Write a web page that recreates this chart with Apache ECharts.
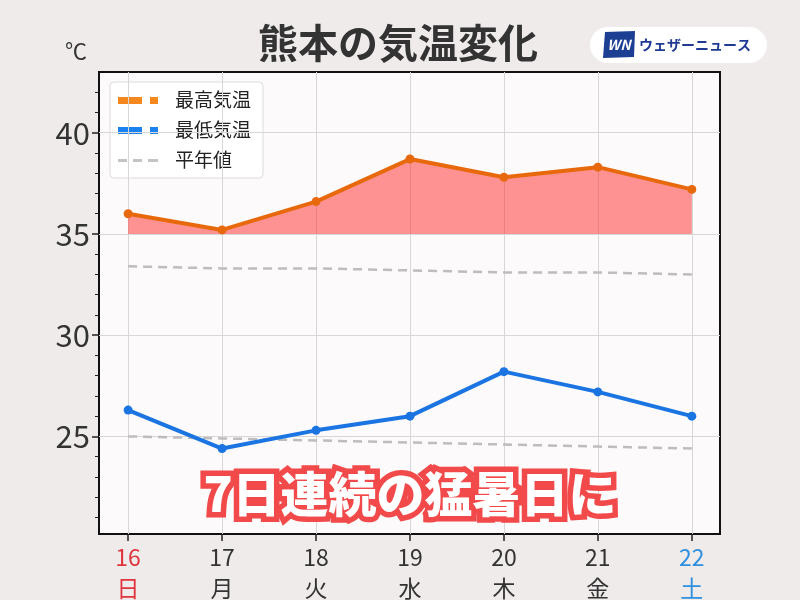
<!DOCTYPE html>
<html>
<head>
<meta charset="utf-8">
<script src="https://cdn.jsdelivr.net/npm/echarts@6/dist/echarts.min.js"></script>
<style>
html,body{margin:0;padding:0;background:#efebea;}
#chart{width:800px;height:600px;}
</style>
</head>
<body>
<div id="chart"></div>
<script>
const days = [16, 17, 18, 19, 20, 21, 22];
const weekdays = ['日', '月', '火', '水', '木', '金', '土'];
const highTemps = [36.0, 35.2, 36.6, 38.7, 37.8, 38.3, 37.2];
const lowTemps = [26.3, 24.4, 25.3, 26.0, 28.2, 27.2, 26.0];
const normalHigh = [33.4, 33.3, 33.3, 33.2, 33.1, 33.1, 33.0];
const normalLow = [25.0, 24.9, 24.8, 24.7, 24.6, 24.5, 24.4];
const yTickLabels = [25, 30, 35, 40];
const yMinorTicks = [21, 22, 23, 24, 26, 27, 28, 29, 31, 32, 33, 34, 36, 37, 38, 39, 41, 42];

const FONT = '"Noto Sans CJK JP", "Noto Sans", sans-serif';
const pair = arr => days.map((d, i) => [d, arr[i]]);

const chart = echarts.init(document.getElementById('chart'), null, {renderer: 'canvas'});

const option = {
  backgroundColor: '#efebea',
  animation: false,
  textStyle: {fontFamily: FONT},
  grid: {
    left: 99, right: 80, top: 72, bottom: 66,
    show: true, backgroundColor: '#fcfafa', borderColor: '#111', borderWidth: 2
  },
  xAxis: {
    type: 'value', min: 15.69, max: 22.3,
    axisLine: {show: false},
    axisTick: {show: true, customValues: days, length: 7, lineStyle: {color: '#222', width: 1.5}},
    axisLabel: {
      customValues: days, margin: 8,
      formatter: v => {
        const i = days.indexOf(Math.round(v));
        const k = i === 0 ? 'r' : (i === days.length - 1 ? 'b' : 'n');
        return '{' + k + '|' + days[i] + '}\n{' + k + '|' + weekdays[i] + '}';
      },
      rich: {
        n: {fontSize: 23, color: '#333', lineHeight: 31, fontFamily: FONT},
        r: {fontSize: 23, color: '#e0353f', lineHeight: 31, fontFamily: FONT},
        b: {fontSize: 23, color: '#2f8fe0', lineHeight: 31, fontFamily: FONT}
      }
    },
    splitLine: {show: true, lineStyle: {color: '#d9d6d6', width: 1}}
  },
  yAxis: [{
    type: 'value', min: 20.18, max: 43,
    axisLine: {show: false},
    axisTick: {show: true, customValues: yTickLabels, length: 7, lineStyle: {color: '#222', width: 1.5}},
    axisLabel: {customValues: yTickLabels, fontSize: 31, color: '#333', margin: 9, fontFamily: FONT},
    splitLine: {show: true, lineStyle: {color: '#d9d6d6', width: 1}}
  }, {
    type: 'value', min: 20.18, max: 43, position: 'left',
    axisLine: {show: false},
    axisTick: {show: true, customValues: yMinorTicks, length: 4, lineStyle: {color: '#222', width: 1}},
    axisLabel: {show: false},
    splitLine: {show: false}
  }],
  series: [
    {
      name: '平年値', type: 'line', data: pair(normalHigh), symbol: 'none', z: 2,
      lineStyle: {color: '#bdbdbd', width: 2.5, type: [9, 6]}
    },
    {
      name: '平年値', type: 'line', data: pair(normalLow), symbol: 'none', z: 2,
      lineStyle: {color: '#bdbdbd', width: 2.5, type: [9, 6]}
    },
    {
      name: '最高気温', type: 'line', data: pair(highTemps), z: 4,
      symbol: 'circle', symbolSize: 9,
      itemStyle: {color: '#e8690c'},
      lineStyle: {color: '#e8690c', width: 4},
      areaStyle: {origin: 35, color: 'rgba(255,42,42,0.5)', opacity: 1}
    },
    {
      name: '最低気温', type: 'line', data: pair(lowTemps), z: 4,
      symbol: 'circle', symbolSize: 9,
      itemStyle: {color: '#1a74e2'},
      lineStyle: {color: '#1a74e2', width: 4}
    }
  ],
  graphic: [
    {type: 'text', x: 398, y: 43, z: 10,
      style: {text: '熊本の気温変化', font: 'bold 40px ' + FONT, fill: '#333', align: 'center', verticalAlign: 'middle'}},
    {type: 'text', x: 76, y: 51, z: 10,
      style: {text: '℃', font: '22px ' + FONT, fill: '#333', align: 'center', verticalAlign: 'middle'}},
    // logo
    {type: 'group', x: 590, y: 27, z: 10, children: [
      {type: 'rect', shape: {x: 0, y: 0, width: 177, height: 36, r: 18}, style: {fill: '#ffffff'}},
      {type: 'polygon', shape: {points: [[15, 5], [45, 4], [44, 30], [13, 31]]}, style: {fill: '#1c3f94'}},
      {type: 'text', x: 29, y: 18, style: {text: 'WN', font: 'italic bold 14px ' + FONT, fill: '#fff', align: 'center', verticalAlign: 'middle'}},
      {type: 'text', x: 49, y: 18, style: {text: 'ウェザーニュース', font: 'bold 14px ' + FONT, fill: '#1f3a93', verticalAlign: 'middle'}}
    ]},
    // legend
    {type: 'group', x: 110, y: 82, z: 10, children: [
      {type: 'rect', shape: {x: 0, y: 0, width: 153, height: 96, r: 4}, style: {fill: '#ffffff', stroke: '#dcdcdc', lineWidth: 1}},
      {type: 'rect', shape: {x: 8, y: 15, width: 24, height: 7}, style: {fill: '#f5871f'}},
      {type: 'rect', shape: {x: 40, y: 15, width: 8, height: 7}, style: {fill: '#f5871f'}},
      {type: 'text', x: 65, y: 18, style: {text: '最高気温', font: '19px ' + FONT, fill: '#222', verticalAlign: 'middle'}},
      {type: 'rect', shape: {x: 8, y: 45, width: 24, height: 7}, style: {fill: '#1a82f0'}},
      {type: 'rect', shape: {x: 40, y: 45, width: 8, height: 7}, style: {fill: '#1a82f0'}},
      {type: 'text', x: 65, y: 48, style: {text: '最低気温', font: '19px ' + FONT, fill: '#222', verticalAlign: 'middle'}},
      {type: 'rect', shape: {x: 8, y: 77, width: 9, height: 3}, style: {fill: '#c4c4c4'}},
      {type: 'rect', shape: {x: 23, y: 77, width: 9, height: 3}, style: {fill: '#c4c4c4'}},
      {type: 'rect', shape: {x: 38, y: 77, width: 10, height: 3}, style: {fill: '#c4c4c4'}},
      {type: 'text', x: 65, y: 78, style: {text: '平年値', font: '19px ' + FONT, fill: '#222', verticalAlign: 'middle'}}
    ]},
    // overlay headline
    {type: 'text', x: 410, y: 494, z: 20,
      style: {text: '7日連続の猛暑日に', font: '900 48px ' + FONT, fill: '#ffffff',
        stroke: '#f24a4a', lineWidth: 11, lineJoin: 'round', align: 'center', verticalAlign: 'middle'}}
  ]
};
chart.setOption(option);
</script>
</body>
</html>
